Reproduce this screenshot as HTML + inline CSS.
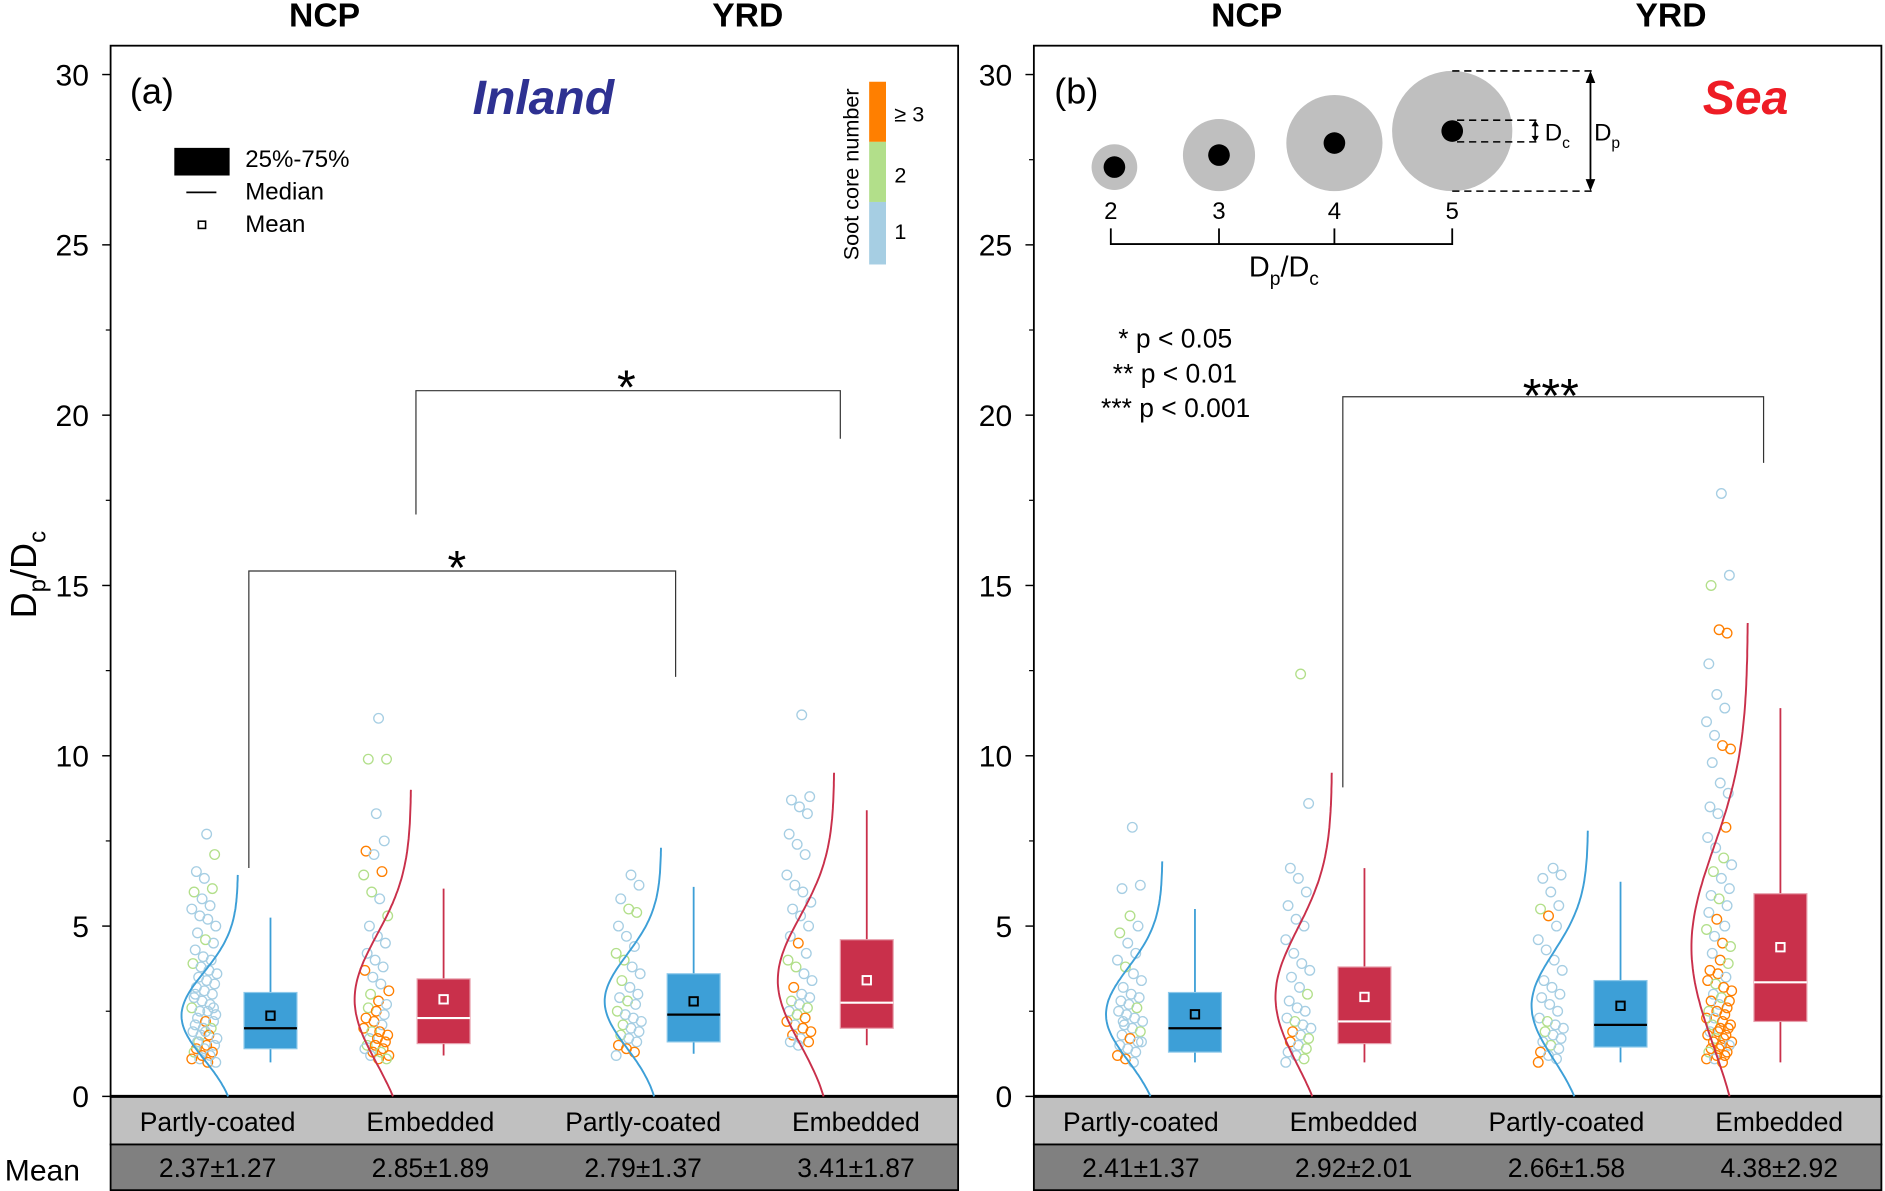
<!DOCTYPE html>
<html><head><meta charset="utf-8"><style>
html,body{margin:0;padding:0;background:#fff;}
svg{display:block;font-family:"Liberation Sans Narrow","Liberation Sans",sans-serif;}
</style></head><body>
<svg id="chart" width="1885" height="1191" viewBox="0 0 1568 990.7" preserveAspectRatio="none" xmlns="http://www.w3.org/2000/svg">
<g id="static">
  <text x="270" y="22" font-size="28" font-weight="bold" text-anchor="middle" font-family="Liberation Sans">NCP</text>
  <text x="622" y="22" font-size="28" font-weight="bold" text-anchor="middle" font-family="Liberation Sans">YRD</text>
  <text x="1037" y="22" font-size="28" font-weight="bold" text-anchor="middle" font-family="Liberation Sans">NCP</text>
  <text x="1390" y="22" font-size="28" font-weight="bold" text-anchor="middle" font-family="Liberation Sans">YRD</text>
  <text transform="translate(30,478) rotate(-90)" font-size="30" text-anchor="middle" font-family="Liberation Sans">D<tspan font-size="20" dy="8">p</tspan><tspan dy="-8">/D</tspan><tspan font-size="20" dy="8">c</tspan></text>
  <text x="4" y="982" font-size="25">Mean</text>
  <text x="108" y="86" font-size="30">(a)</text>
  <text x="452" y="95" font-size="40" font-weight="bold" font-style="italic" fill="#2e3192" text-anchor="middle" font-family="Liberation Sans">Inland</text>
  <rect x="145" y="123" width="46" height="23" fill="#000"/>
  <text x="204" y="139" font-size="20">25%-75%</text>
  <line x1="155" y1="160" x2="180" y2="160" stroke="#000" stroke-width="1.5"/>
  <text x="204" y="166" font-size="20">Median</text>
  <rect x="165" y="184" width="6" height="6" fill="#fff" stroke="#000" stroke-width="1.3"/>
  <text x="204" y="193" font-size="20">Mean</text>
  <rect x="723" y="68" width="14" height="50" fill="#ff7f00"/>
  <rect x="723" y="118" width="14" height="50" fill="#b2df8a"/>
  <rect x="723" y="168" width="14" height="52" fill="#a6cee3"/>
  <text x="744" y="101" font-size="18">≥ 3</text>
  <text x="744" y="152" font-size="18">2</text>
  <text x="744" y="199" font-size="18">1</text>
  <text transform="translate(714,145) rotate(-90)" font-size="18" text-anchor="middle" font-family="Liberation Sans">Soot core number</text>
  <polyline points="207,722 207,475 562,475 562,563" fill="none" stroke="#333" stroke-width="1"/>
  <text x="380" y="486" font-size="40" text-anchor="middle" font-family="Liberation Sans">*</text>
  <polyline points="346,428 346,325 699,325 699,365" fill="none" stroke="#333" stroke-width="1"/>
  <text x="521" y="336" font-size="40" text-anchor="middle" font-family="Liberation Sans">*</text>
  <text x="877" y="86" font-size="30">(b)</text>
  <text x="1452" y="95" font-size="40" font-weight="bold" font-style="italic" fill="#ee1c25" text-anchor="middle" font-family="Liberation Sans">Sea</text>
  <g>
    <circle cx="927" cy="139" r="19" fill="#bfbfbf"/><circle cx="927" cy="139" r="9" fill="#000"/>
    <circle cx="1014" cy="129" r="30" fill="#bfbfbf"/><circle cx="1014" cy="129" r="9" fill="#000"/>
    <circle cx="1110" cy="119" r="40" fill="#bfbfbf"/><circle cx="1110" cy="119" r="9" fill="#000"/>
    <circle cx="1208" cy="109" r="50" fill="#bfbfbf"/><circle cx="1208" cy="109" r="9" fill="#000"/>
    <polyline points="924,190 924,203 1208,203 1208,190" fill="none" stroke="#000" stroke-width="1.5"/>
    <line x1="1014" y1="190" x2="1014" y2="203" stroke="#000" stroke-width="1.5"/>
    <line x1="1110" y1="190" x2="1110" y2="203" stroke="#000" stroke-width="1.5"/>
    <text x="924" y="182" font-size="20" text-anchor="middle">2</text>
    <text x="1014" y="182" font-size="20" text-anchor="middle">3</text>
    <text x="1110" y="182" font-size="20" text-anchor="middle">4</text>
    <text x="1208" y="182" font-size="20" text-anchor="middle">5</text>
    <text x="1068" y="230" font-size="24" text-anchor="middle">D<tspan font-size="16" dy="7">p</tspan><tspan dy="-7">/D</tspan><tspan font-size="16" dy="7">c</tspan></text>
    <line x1="1208" y1="59" x2="1328" y2="59" stroke="#000" stroke-dasharray="6,4" stroke-width="1.3"/>
    <line x1="1208" y1="159" x2="1328" y2="159" stroke="#000" stroke-dasharray="6,4" stroke-width="1.3"/>
    <line x1="1212" y1="100" x2="1280" y2="100" stroke="#000" stroke-dasharray="6,4" stroke-width="1.3"/>
    <line x1="1212" y1="118" x2="1280" y2="118" stroke="#000" stroke-dasharray="6,4" stroke-width="1.3"/>
    <line x1="1323" y1="62" x2="1323" y2="156" stroke="#000" stroke-width="1.5"/>
    <polygon points="1323,59 1319,69 1327,69" fill="#000"/><polygon points="1323,159 1319,149 1327,149" fill="#000"/>
    <line x1="1277" y1="102" x2="1277" y2="116" stroke="#000" stroke-width="1.2"/>
    <polygon points="1277,100 1274,105 1280,105" fill="#000"/><polygon points="1277,118 1274,113 1280,113" fill="#000"/>
    <text x="1285" y="117" font-size="20">D<tspan font-size="13" dy="6">c</tspan></text>
    <text x="1326" y="117" font-size="20">D<tspan font-size="13" dy="6">p</tspan></text>
  </g>
  <text x="1025" y="289" font-size="22" text-anchor="end" font-family="Liberation Sans">* p &lt; 0.05</text>
  <text x="1029" y="318" font-size="22" text-anchor="end" font-family="Liberation Sans">** p &lt; 0.01</text>
  <text x="1040" y="347" font-size="22" text-anchor="end" font-family="Liberation Sans">*** p &lt; 0.001</text>
  <polyline points="1117,655 1117,330 1467,330 1467,385" fill="none" stroke="#333" stroke-width="1"/>
  <text x="1290" y="343" font-size="40" text-anchor="middle" font-family="Liberation Sans">***</text>
</g>
<g id="marks"></g>
</svg>
<script>
const categories = ["Partly-coated","Embedded","Partly-coated","Embedded"];
const meanLabelsA = ["2.37±1.27","2.85±1.89","2.79±1.37","3.41±1.87"];
const meanLabelsB = ["2.41±1.37","2.92±2.01","2.66±1.58","4.38±2.92"];
const meansA = [2.37,2.85,2.79,3.41];
const sdsA = [1.27,1.89,1.37,1.87];
const meansB = [2.41,2.92,2.66,4.38];
const sdsB = [1.37,2.01,1.58,2.92];
const loA = [1.0,1.2,1.25,1.5];
const q1A = [1.4,1.55,1.6,2.0];
const medA = [2.0,2.3,2.4,2.75];
const q3A = [3.05,3.45,3.6,4.6];
const hiA = [5.25,6.1,6.15,8.4];
const curveTopA = [6.5,9.0,7.3,9.5];
const loB = [1.0,1.0,1.0,1.0];
const q1B = [1.3,1.55,1.45,2.2];
const medB = [2.0,2.2,2.1,3.35];
const q3B = [3.05,3.8,3.4,5.95];
const hiB = [5.5,6.7,6.3,11.4];
const curveTopB = [6.9,9.5,7.8,13.9];
const yTicks = [0,5,10,15,20,25,30];
const ptsA1 = [7.7,7.1,6.6,6.4,6.1,6.0,5.8,5.6,5.5,5.3,5.2,5.0,4.8,4.6,4.5,4.3,4.1,4.0,3.9,3.8,3.7,3.6,3.5,3.4,3.3,3.2,3.1,3.0,2.9,2.8,2.7,2.6,2.5,2.5,2.4,2.3,2.2,2.2,2.1,2.0,2.0,1.9,1.8,1.8,1.7,1.6,1.5,1.5,1.4,1.4,1.3,1.3,1.2,1.2,1.1,1.1,1.0,1.0,1.6,1.9,2.6,3.0];
const clsA1 = [1,2,1,1,2,2,1,1,1,1,1,1,1,2,1,1,1,1,2,1,1,1,1,1,1,1,1,1,1,1,1,2,1,1,1,1,3,1,1,1,2,1,1,3,1,2,3,1,3,1,3,2,3,1,3,1,3,1,1,1,1,1];
const ptsA2 = [11.1,9.9,9.9,8.3,7.5,7.2,7.1,6.6,6.5,6.0,5.8,5.3,5.0,4.7,4.5,4.2,4.0,3.8,3.7,3.5,3.3,3.1,3.0,2.8,2.7,2.6,2.5,2.4,2.3,2.2,2.1,2.0,1.9,1.9,1.8,1.7,1.7,1.6,1.5,1.5,1.4,1.4,1.3,1.3,1.2,1.2,1.1,1.1];
const clsA2 = [1,2,2,1,1,3,1,3,2,2,1,2,1,1,1,1,1,1,3,1,1,3,2,3,1,2,3,1,3,3,1,3,2,3,3,1,3,3,2,3,3,1,3,2,3,1,3,2];
const ptsA3 = [6.5,6.2,5.8,5.5,5.4,5.0,4.7,4.4,4.2,4.0,3.8,3.6,3.4,3.2,3.0,2.9,2.8,2.7,2.5,2.4,2.3,2.2,2.1,2.0,1.9,1.8,1.7,1.6,1.5,1.4,1.3,1.2];
const clsA3 = [1,1,1,2,2,1,1,1,2,2,1,1,2,1,1,1,2,1,2,1,1,1,2,1,1,2,1,1,3,3,3,1];
const ptsA4 = [11.2,8.8,8.7,8.5,8.3,7.7,7.4,7.1,6.5,6.2,6.0,5.7,5.5,5.3,5.0,4.7,4.5,4.2,4.0,3.8,3.6,3.4,3.2,3.0,2.9,2.8,2.7,2.6,2.5,2.4,2.3,2.2,2.1,2.0,1.9,1.8,1.7,1.6,1.6,1.5];
const clsA4 = [1,1,1,1,1,1,1,1,1,1,1,1,1,1,1,1,3,1,2,2,1,1,3,1,1,2,1,2,1,2,3,3,1,3,3,3,1,3,1,1];
const ptsB1 = [7.9,6.2,6.1,5.3,5.0,4.8,4.5,4.2,4.0,3.8,3.6,3.4,3.2,3.0,2.9,2.8,2.7,2.6,2.5,2.4,2.3,2.2,2.1,2.0,1.9,1.8,1.7,1.6,1.5,1.4,1.3,1.2,1.1,1.0,1.6,2.2];
const clsB1 = [1,1,1,2,1,2,1,1,1,2,1,1,1,1,1,1,1,2,1,1,1,1,1,1,2,1,3,1,1,1,1,3,3,1,1,1];
const ptsB2 = [12.4,8.6,6.7,6.4,6.0,5.6,5.2,5.0,4.6,4.2,3.9,3.7,3.5,3.2,3.0,2.8,2.6,2.5,2.3,2.2,2.1,2.0,1.9,1.8,1.7,1.6,1.5,1.4,1.3,1.2,1.1,1.0];
const clsB2 = [2,1,1,1,1,1,1,1,1,1,1,1,1,1,2,1,1,1,1,2,1,1,3,1,2,3,1,2,1,1,2,1];
const ptsB3 = [6.7,6.5,6.4,6.0,5.6,5.5,5.3,5.0,4.6,4.3,4.0,3.7,3.4,3.2,3.0,2.9,2.7,2.5,2.3,2.2,2.1,2.0,1.9,1.8,1.7,1.6,1.5,1.4,1.3,1.2,1.1,1.0];
const clsB3 = [1,1,1,1,1,2,3,1,1,1,1,1,1,1,1,1,1,1,1,2,1,1,2,1,1,1,2,1,3,1,1,3];
const ptsB4 = [17.7,15.3,15.0,13.7,13.6,12.7,11.8,11.4,11.0,10.6,10.3,10.2,9.8,9.2,8.9,8.5,8.3,7.9,7.6,7.3,7.0,6.8,6.6,6.4,6.1,5.9,5.8,5.6,5.4,5.2,5.0,4.9,4.7,4.5,4.4,4.2,4.0,3.9,3.7,3.6,3.5,3.4,3.3,3.2,3.1,3.0,2.9,2.8,2.8,2.7,2.6,2.5,2.5,2.4,2.3,2.3,2.2,2.1,2.1,2.0,2.0,1.9,1.9,1.8,1.8,1.7,1.7,1.6,1.6,1.5,1.5,1.4,1.4,1.3,1.3,1.2,1.2,1.1,1.1,1.0];
const clsB4 = [1,1,2,3,3,1,1,1,1,1,3,3,1,1,1,1,1,3,1,1,2,1,2,1,1,1,2,1,1,3,1,2,1,3,2,1,3,2,3,3,1,3,2,3,3,1,2,3,3,1,3,2,3,3,3,1,3,3,2,3,3,1,3,3,3,2,3,3,3,3,1,3,3,3,2,3,3,3,1,3];

const NS = "http://www.w3.org/2000/svg";
const marks = document.getElementById("marks");
const Y0 = 912, PX = 28.333;
function yScale(v){ return Y0 - v*PX; }
const panels = [
  {x0:92, x1:797, scatX:[170,313,523,665], boxX:[225,369,577,721], means:meansA, sds:sdsA, lo:loA, q1:q1A, med:medA, q3:q3A, hi:hiA, top:curveTopA, labels:meanLabelsA, pts:[ptsA1,ptsA2,ptsA3,ptsA4], cls:[clsA1,clsA2,clsA3,clsA4], name:"a"},
  {x0:860, x1:1565, scatX:[940,1080,1290,1430], boxX:[994,1135,1348,1481], means:meansB, sds:sdsB, lo:loB, q1:q1B, med:medB, q3:q3B, hi:hiB, top:curveTopB, labels:meanLabelsB, pts:[ptsB1,ptsB2,ptsB3,ptsB4], cls:[clsB1,clsB2,clsB3,clsB4], name:"b"}
];
const ptColor = {1:"#a6cee3",2:"#b2df8a",3:"#ff7f00"};
function mk(tag, attrs){ const e=document.createElementNS(NS,tag); for(const k in attrs) e.setAttribute(k,attrs[k]); marks.appendChild(e); return e; }
panels.forEach(p=>{
  let r1 = mk("rect",{x:p.x0,y:912,width:p.x1-p.x0,height:40,fill:"#c0c0c0",stroke:"#000","stroke-width":1.5});
  
  
  let r2 = mk("rect",{x:p.x0,y:952,width:p.x1-p.x0,height:38,fill:"#808080",stroke:"#000","stroke-width":1.5});
  
  
  let fr = mk("rect",{x:p.x0,y:38,width:p.x1-p.x0,height:874,fill:"none",stroke:"#000","stroke-width":1.5});
  
  
  let ax = mk("line",{x1:p.x0,y1:912,x2:p.x1,y2:912,stroke:"#000","stroke-width":2.5});
  
  
  yTicks.forEach(t=>{
    let l = mk("line",{x1:p.x0-7,y1:yScale(t),x2:p.x0,y2:yScale(t),stroke:"#000","stroke-width":1.2});
    
    
    if(t<30){
      let m = mk("line",{x1:p.x0-4,y1:yScale(t+2.5),x2:p.x0,y2:yScale(t+2.5),stroke:"#000","stroke-width":1});
      
      
    }
    let tx = mk("text",{x:p.x0-18,y:yScale(t)+9,"font-size":25,"text-anchor":"end"});
    tx.textContent = t;
    
    
  });
  for(let i=0;i<4;i++){
    const emb = i%2===1;
    const col = emb ? "#c9304b" : "#3d9fd7";
    const lx = p.x0 + 89 + i*177;
    let c = mk("text",{x:lx, y:941,"font-size":22,"text-anchor":"middle"});
    c.textContent = categories[i];
    
    
    let ml = mk("text",{x:lx, y:979,"font-size":22,"text-anchor":"middle"});
    ml.textContent = p.labels[i];
    
    
    p.pts[i].forEach((v,j)=>{
      const jx = (((j*7919+13)%23) - 11) * 0.95;
      let pt = mk("circle",{cx:p.scatX[i]+jx, cy:yScale(v), r:4, fill:"none", stroke:ptColor[p.cls[i][j]], "stroke-width":1.1});
      
      
    });
    const base = p.boxX[i]-27, amp = 47, m=p.means[i], s=p.sds[i];
    let d="";
    for(let k=0;k<=100;k++){
      const v = p.top[i]*k/100;
      const x = base - amp*Math.exp(-((v-m)*(v-m))/(2*s*s));
      d += (k?"L":"M")+x.toFixed(1)+","+yScale(v).toFixed(1);
    }
    let cv = mk("path",{d:d,fill:"none",stroke:col,"stroke-width":1.6});
    
    
    let wk = mk("line",{x1:p.boxX[i],y1:yScale(p.lo[i]),x2:p.boxX[i],y2:yScale(p.hi[i]),stroke:col,"stroke-width":1.5});
    
    
    let bx = mk("rect",{x:p.boxX[i]-22,y:yScale(p.q3[i]),width:44,height:yScale(p.q1[i])-yScale(p.q3[i]),fill:col,stroke:emb?"#e8a0ad":"#8cc8ea","stroke-width":1});
    
    
    let md = mk("line",{x1:p.boxX[i]-22,y1:yScale(p.med[i]),x2:p.boxX[i]+22,y2:yScale(p.med[i]),stroke:emb?"#fff":"#000","stroke-width":1.8});
    
    
    let mn = mk("rect",{x:p.boxX[i]-3.5,y:yScale(p.means[i])-3.5,width:7,height:7,fill:col,stroke:emb?"#fff":"#000","stroke-width":1.6});
    
    
  }
});
</script>
</body></html>
